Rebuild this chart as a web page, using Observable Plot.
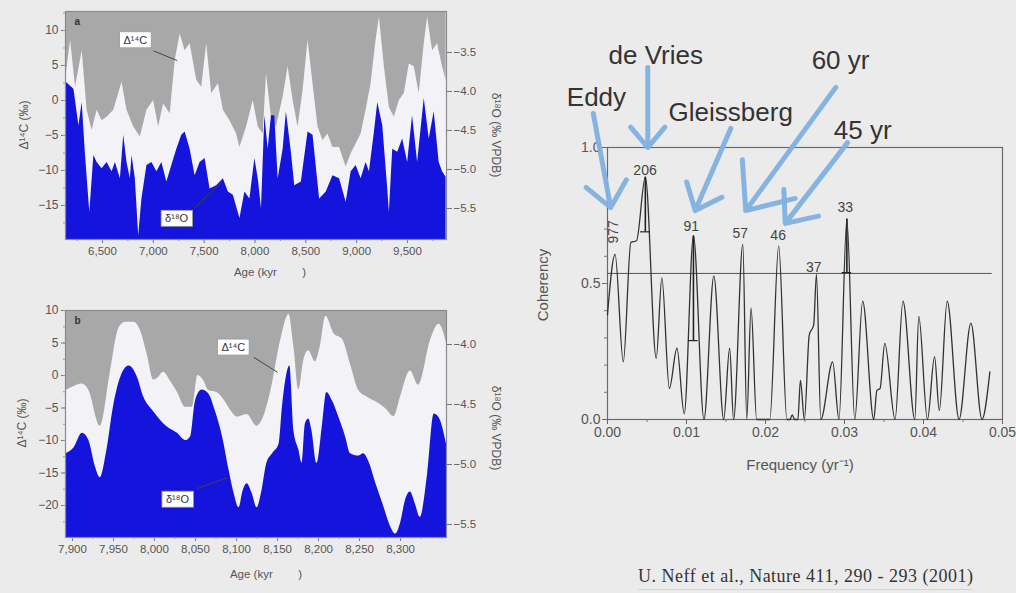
<!DOCTYPE html>
<html><head><meta charset="utf-8">
<script src="https://cdn.jsdelivr.net/npm/d3@7"></script>
<script src="https://cdn.jsdelivr.net/npm/@observablehq/plot@0.6"></script>
<style>
html,body{margin:0;padding:0;background:#ebebeb;}
#root{position:relative;width:1016px;height:593px;overflow:hidden;background:#ebebeb;font-family:"Liberation Sans",Arial,sans-serif;}
.pane{position:absolute;}
.lbl{position:absolute;white-space:pre;color:#555;font-size:12px;line-height:1;}
.rl{transform:translate(-50%,-50%) rotate(-90deg);}
.rr{transform:translate(-50%,-50%) rotate(90deg);}
.hc{transform:translate(-50%,-50%);}
.cap{position:absolute;left:638px;top:566px;font-family:"Liberation Serif","Times New Roman",serif;font-size:18px;letter-spacing:0.5px;color:#333;white-space:nowrap;border-bottom:1px solid #d6d6d6;padding-bottom:2px;}
</style></head><body><div id="root"></div>
<script>
// ---------- Panel a (Δ14C and δ18O vs age) ----------
const ageA14 = [6140,6186,6235,6300,6349,6398,6447,6496,6545,6611,
  6692,6741,6807,6872,6937,7003,7052,7101,7166,7215,
  7264,7313,7362,7427,7476,7525,7574,7640,7689,7754,
  7819,7852,7917,7983,8032,8081,8113,8162,8211,8277,
  8326,8375,8424,8473,8522,8571,8620,8669,8718,8767,
  8832,8897,8946,8995,9044,9093,9142,9191,9224,9273,
  9322,9371,9420,9469,9518,9567,9616,9665,9698,9747,
  9796,9845,9880];
const d14cA = [3.3,8.6,1.9,7.1,-1.4,-4.3,-1.4,-2.9,-2.4,-1.4,
  2.6,-1.4,-3.8,-5.2,-1.4,0,-3.8,-0.5,-1.9,5.7,
  9.5,7.1,8.1,2.9,1.9,8.1,1.0,2.4,-1.4,-2.9,
  -4.8,-6.7,-3.8,0,-3.8,-4.8,3.8,-2.4,-3.8,0.5,
  4.8,0,-3.8,1.4,8.6,2.4,-3.8,-5.7,-4.8,-6.7,
  -6.7,-9.5,-7.6,-6.2,-4.8,-1.4,2.4,8.6,11.9,4.8,
  -1.0,-2.4,0,1.0,5.2,4.8,1.0,8.1,11.9,7.1,
  8.1,4.8,2.9];
const ageA18 = [6140,6219,6268,6300,6333,6375,6415,6447,6496,6545,
  6594,6627,6676,6709,6741,6774,6790,6823,6856,6888,
  6937,6986,7035,7084,7133,7182,7231,7280,7313,7362,
  7411,7460,7509,7558,7623,7689,7738,7787,7852,7901,
  7950,7999,8032,8064,8097,8130,8162,8195,8228,8277,
  8309,8358,8391,8456,8522,8571,8636,8701,8767,8832,
  8897,8946,8995,9044,9093,9126,9175,9208,9257,9306,
  9322,9355,9404,9453,9502,9550,9600,9665,9714,9763,
  9812,9845,9880];
const d18oA = [-3.88,-3.97,-4.44,-4.14,-4.82,-5.55,-4.82,-4.91,-4.99,-4.91,
  -5.03,-4.91,-5.12,-4.56,-4.91,-5.12,-4.82,-5.12,-5.85,-5.38,
  -4.95,-4.91,-5.03,-4.91,-5.16,-4.95,-4.74,-4.56,-4.52,-4.74,
  -5.08,-4.91,-4.86,-5.25,-5.21,-5.12,-5.29,-5.33,-5.63,-5.29,
  -5.38,-4.86,-5.12,-5.50,-4.31,-4.74,-4.31,-4.31,-5.12,-4.74,
  -4.26,-4.78,-5.21,-5.16,-4.52,-4.56,-5.38,-5.29,-5.08,-5.12,
  -5.42,-5.03,-4.95,-5.12,-4.91,-5.03,-4.52,-4.14,-4.44,-5.25,
  -5.55,-4.74,-4.78,-4.61,-4.91,-4.31,-4.91,-4.09,-4.61,-4.26,
  -4.91,-5.03,-5.10];
const ageTicksA = [6500,7000,7500,8000,8500,9000,9500];
const d14cTicksA = [10,5,0,-5,-10,-15];
const d18oTicksA = [-3.5,-4.0,-4.5,-5.0,-5.5];
const annoTextA = ["Δ¹⁴C","δ¹⁸O"];
const annoAgeA = [6823,7229];
const annoValA = [8.6,-16.9];
const leadAgeA1 = [7000,7411], leadValA1 = [7.1,-15.3];
const leadAgeA2 = [7235,7676], leadValA2 = [5.7,-11.6];

// ---------- Panel b ----------
const ageB14 = [7892,7900,7912,7920,7934,7946,7957,7965,7975,7983,
  7991,7999,8005,8011,8020,8028,8038,8046,8053,8060,
  8066,8076,8085,8093,8101,8113,8125,8133,8142,8154,
  8164,8170,8176,8182,8188,8196,8202,8209,8219,8229,
  8239,8249,8259,8272,8282,8292,8300,8312,8322,8337,
  8347,8353,8356];
const d14cB = [-2.3,-1.8,-1.3,-2.3,-7.8,0.3,7.4,8.2,8.2,6.9,
  3.3,-0.7,-0.3,0.5,-1.0,-2.6,-4.9,-4.9,0,-0.8,
  -2.3,-2.6,-3.8,-5.4,-6.4,-6.0,-7.8,-6.4,-2.3,5.5,
  9.4,4.4,-2.2,2.3,3.8,2.1,4.4,9.1,6.4,5.6,
  1.7,-2.3,-3.3,-4.2,-5.1,-6.3,-3.3,0.7,-1.5,5.6,
  7.9,6.4,4.9];
const ageB18 = [7892,7902,7912,7920,7928,7934,7942,7950,7959,7969,
  7979,7987,7999,8016,8028,8038,8044,8050,8058,8066,
  8074,8083,8091,8097,8103,8108,8113,8119,8125,8131,
  8137,8144,8152,8156,8160,8165,8170,8176,8180,8184,
  8188,8192,8198,8205,8210,8217,8225,8233,8239,8249,
  8255,8261,8270,8280,8288,8294,8300,8306,8312,8318,
  8324,8333,8341,8347,8356];
const d18oB = [-4.91,-4.86,-4.74,-4.80,-5.02,-5.11,-4.88,-4.52,-4.27,-4.18,
  -4.27,-4.44,-4.56,-4.69,-4.74,-4.80,-4.77,-4.47,-4.38,-4.41,
  -4.55,-4.77,-5.05,-5.24,-5.36,-5.22,-5.16,-5.24,-5.36,-5.22,
  -4.99,-4.91,-4.83,-4.52,-4.30,-4.18,-4.72,-4.88,-4.99,-4.66,
  -4.62,-4.72,-4.99,-4.66,-4.40,-4.47,-4.61,-4.77,-4.91,-4.93,
  -4.91,-4.97,-5.16,-5.36,-5.52,-5.58,-5.49,-5.30,-5.23,-5.33,
  -5.44,-5.08,-4.58,-4.61,-4.83];
const ageTicksB = [7900,7950,8000,8050,8100,8150,8200,8250,8300];
const d14cTicksB = [10,5,0,-5,-10,-15,-20];
const d18oTicksB = [-4.0,-4.5,-5.0,-5.5];
const annoTextB = ["Δ¹⁴C","δ¹⁸O"];
const annoAgeB = [8096,8028];
const annoValB = [4.3,-19.1];
const leadAgeB1 = [8121,8052], leadValB1 = [2.8,-17.4];
const leadAgeB2 = [8150,8089], leadValB2 = [0.5,-15.7];

// ---------- Coherency spectrum ----------
const freq = [0,0.00096,0.0020,0.00296,0.00367,0.00479,0.00617,0.00688,0.00783,0.00879,
  0.00971,0.01088,0.01221,0.01346,0.01471,0.01546,0.01596,0.01713,0.01763,0.01817,
  0.01888,0.02054,0.02167,0.02271,0.0231,0.02338,0.0237,0.0241,0.02442,0.02492,
  0.02554,0.02610,0.02645,0.0270,0.0285,0.0293,0.0303,0.0313,0.0323,0.0337,
  0.0341,0.0345,0.0351,0.0364,0.0374,0.0389,0.0394,0.0405,0.0414,0.0420,
  0.0430,0.0445,0.0460,0.0474,0.0484];
const coherency = [0.385,0.607,0.212,0.651,0.657,0.891,0.225,0.521,0.114,0.262,
  0.021,0.675,0,0.527,0,0.262,0,0.644,0.002,0.41,
  0,0,0.638,0,0,0.017,0,0,0.144,0,
  0.311,0.348,0.533,0,0.212,0,0.737,0,0.435,0,
  0.107,0.114,0.280,0,0.435,0,0.379,0,0.231,0.033,
  0.435,0,0.354,0,0.175];
const significance = 0.537;
const barFreq = [0.00479,0.01088,0.0303];
const barHigh = [0.891,0.675,0.737];
const barLow = [0.69,0.29,0.54];
const peakLabels = ["977","206","91","57","46","37","33"];
const peakFreq = [0.0008,0.00475,0.0106,0.0168,0.0216,0.0261,0.0301];
const peakCoh = [0.69,0.915,0.71,0.685,0.675,0.56,0.78];
const cycleNames = ["Eddy","de Vries","Gleissberg","60 yr","45 yr"];
const nameFreq = [-0.0014,0.0061,0.0156,0.0295,0.0323];
const nameCoh = [1.184,1.338,1.129,1.32,1.0625];
const arrowFreq1 = [-0.0018,0.0051,0.0156,0.0289,0.0304];
const arrowCoh1 = [1.125,1.294,1.070,1.221,1.018];
const arrowFreq2 = [0.0004,0.0051,0.0111,0.0175,0.0225];
const arrowCoh2 = [0.779,1.0,0.768,0.768,0.721];
const freqTicks = [0,0.01,0.02,0.03,0.04,0.05];
const cohTicks = [0,0.5,1.0];
const caption = "U. Neff et al., Nature 411, 290 - 293 (2001)";

// ---------- build ----------
const root = document.getElementById("root");
const FONT = '"Liberation Sans", Arial, sans-serif';

function addLabel(text, x, y, cls, size) {
  const d = document.createElement("div");
  d.className = "lbl " + cls;
  d.style.left = x + "px"; d.style.top = y + "px";
  if (size) d.style.fontSize = size + "px";
  d.textContent = text;
  root.appendChild(d);
}

function boxLabels(svg, labels) {
  Array.from(svg.querySelectorAll("text"))
    .filter(t => labels.includes(t.textContent))
    .forEach(t => {
      const b = t.getBBox();
      const r = document.createElementNS("http://www.w3.org/2000/svg", "rect");
      r.setAttribute("x", b.x - 4); r.setAttribute("y", b.y - 2);
      r.setAttribute("width", b.width + 8); r.setAttribute("height", b.height + 4);
      r.setAttribute("fill", "#ffffff"); r.setAttribute("stroke", "#9a9a9a"); r.setAttribute("stroke-width", "0.8");
      if (t.getAttribute("transform")) r.setAttribute("transform", t.getAttribute("transform"));
      t.parentNode.insertBefore(r, t);
    });
}

function panel(o) {
  const grey = o.a14.map((x, i) => ({x, y: o.v14[i]}));
  const blue = o.a18.map((x, i) => ({x, y: o.toLeft(o.v18[i])}));
  const [y0, y1] = o.yDomain;
  const anno = o.annoText.map((t, i) => ({t, x: o.annoAge[i], y: o.annoVal[i],
    x1: o.lx1[i], y1: o.ly1[i], x2: o.lx2[i], y2: o.ly2[i]}));
  const fmtR = v => {
    const d = Math.round(o.toLeft.invert(v) * 2) / 2;
    return d.toFixed(1).replace("-", "\u2212");
  };
  const svg = Plot.plot({
    width: 520, height: o.height,
    marginLeft: 65, marginRight: 74, marginTop: o.mt, marginBottom: o.mb,
    x: {domain: o.xDomain}, y: {domain: o.yDomain},
    style: {background: "transparent", fontFamily: FONT, color: "#555", fontSize: "12px", overflow: "visible"},
    marks: [
      Plot.frame({fill: "#f3f3f7", stroke: null}),
      Plot.areaY(grey, {x: "x", y1: "y", y2: () => y1, fill: "#a8a8a8", curve: o.curve}),
      Plot.areaY(blue, {x: "x", y1: () => y0, y2: "y", fill: "#1414dc", curve: o.curve}),
      Plot.frame({stroke: "#8a8a8a", strokeWidth: 1.2}),
      Plot.axisX(o.xTicks, {tickFormat: d3.format(","), tickSize: 4, tickPadding: 3, fontSize: 11.5, label: null, stroke: "#777"}),
      Plot.axisX(o.xMinor, {tickFormat: () => "", tickSize: 2, label: null, stroke: "#999"}),
      Plot.axisY(o.yTicks, {tickSize: 4, tickPadding: 3, fontSize: 12, label: null, stroke: "#777"}),
      Plot.axisY(o.yMinor, {tickFormat: () => "", tickSize: 2, label: null, stroke: "#999"}),
      Plot.axisY(o.rTicks.map(o.toLeft), {anchor: "right", tickFormat: fmtR, tickSize: 5, tickPadding: 2, fontSize: 11.5, label: null, stroke: "#777"}),
      Plot.link(anno, {x1: "x1", y1: "y1", x2: "x2", y2: "y2", stroke: "#444", strokeWidth: 1}),
      Plot.text(anno, {x: "x", y: "y", text: "t", fontSize: 11, fill: "#333"}),
      Plot.text([o.letter], {frameAnchor: "top-left", dx: 9, dy: 6, fontSize: 10, fontWeight: "bold", fill: "#333"})
    ]
  });
  const wrap = document.createElement("div");
  wrap.className = "pane"; wrap.style.left = "0px"; wrap.style.top = o.top + "px";
  wrap.appendChild(svg); root.appendChild(wrap);
  boxLabels(svg, o.annoText);
}

panel({
  a14: ageA14, v14: d14cA, a18: ageA18, v18: d18oA,
  toLeft: d3.scaleLinear().domain([-3.5, -5.5]).range([6.857, -15.429]),
  xDomain: [6136, 9884], yDomain: [-19.86, 12.71],
  xTicks: ageTicksA, xMinor: d3.range(6250, 9884, 250),
  yTicks: d14cTicksA, yMinor: d3.range(-17.5, 12.6, 2.5),
  rTicks: d18oTicksA, curve: "linear",
  height: 290, mt: 11, mb: 51, top: 0, letter: "a",
  annoText: annoTextA, annoAge: annoAgeA, annoVal: annoValA,
  lx1: leadAgeA1, ly1: leadValA1, lx2: leadAgeA2, ly2: leadValA2
});
panel({
  a14: ageB14, v14: d14cB, a18: ageB18, v18: d18oB,
  toLeft: d3.scaleLinear().domain([-4.0, -5.5]).range([4.769, -22.923]),
  xDomain: [7891.5, 8356], yDomain: [-24.92, 10],
  xTicks: ageTicksB, xMinor: d3.range(7900, 8356, 25),
  yTicks: d14cTicksB, yMinor: d3.range(-22.5, 10.1, 2.5),
  rTicks: d18oTicksB, curve: "monotone-x",
  height: 298, mt: 15, mb: 56, top: 295, letter: "b",
  annoText: annoTextB, annoAge: annoAgeB, annoVal: annoValB,
  lx1: leadAgeB1, ly1: leadValB1, lx2: leadAgeB2, ly2: leadValB2
});

// right spectrum
const spec = freq.map((f, i) => ({f, c: coherency[i]}));
const bars = barFreq.map((f, i) => ({f, hi: barHigh[i], lo: barLow[i]}));
const peaks = peakLabels.map((t, i) => ({t, f: peakFreq[i], c: peakCoh[i]}));
const names = cycleNames.map((t, i) => ({t, f: nameFreq[i], c: nameCoh[i],
  f1: arrowFreq1[i], c1: arrowCoh1[i], f2: arrowFreq2[i], c2: arrowCoh2[i]}));
const svgR = Plot.plot({
  width: 496, height: 450, marginLeft: 87, marginRight: 14, marginTop: 117, marginBottom: 61,
  x: {domain: [0, 0.05]}, y: {domain: [0, 1]},
  style: {background: "transparent", fontFamily: FONT, color: "#555", overflow: "visible"},
  marks: [
    Plot.frame({stroke: "#6a6a6a", strokeWidth: 1.2}),
    Plot.ruleY([significance], {x1: 0, x2: 0.0487, stroke: "#555", strokeWidth: 1}),
    Plot.line(spec, {x: "f", y: "c", curve: "monotone-x", stroke: "#333", strokeWidth: 1.3}),
    Plot.ruleX(bars, {x: "f", y1: "lo", y2: "hi", stroke: "#222", strokeWidth: 1.6}),
    Plot.ruleY(bars, {y: "lo", x1: d => d.f - 0.0006, x2: d => d.f + 0.0006, stroke: "#222", strokeWidth: 1.2}),
    Plot.text(peaks.slice(1), {x: "f", y: "c", text: "t", fontSize: 14, fill: "#444"}),
    Plot.text(peaks.slice(0, 1), {x: "f", y: "c", text: "t", fontSize: 14, fill: "#444", rotate: -90}),
    Plot.axisX(freqTicks, {tickFormat: d3.format(".2f"), tickSize: 5, tickPadding: 3, fontSize: 14, label: null, stroke: "#666"}),
    Plot.axisX(d3.range(0.005, 0.05, 0.01), {tickFormat: () => "", tickSize: 3, label: null, stroke: "#777"}),
    Plot.axisY(cohTicks, {tickFormat: d3.format(".1f"), tickSize: 5, tickPadding: 2, fontSize: 14, label: null, stroke: "#666"}),
    Plot.axisY(d3.range(0.1, 1, 0.1), {tickFormat: () => "", tickSize: 3, label: null, stroke: "#777"}),
    Plot.arrow(names, {x1: "f1", y1: "c1", x2: "f2", y2: "c2", stroke: "#7fb0e2", strokeWidth: 5, headLength: 22, headAngle: 80, strokeOpacity: 0.95}),
    Plot.text(names, {x: "f", y: "c", text: "t", fontSize: 26, fill: "#333"})
  ]
});
const wrapR = document.createElement("div");
wrapR.className = "pane"; wrapR.style.left = "520px"; wrapR.style.top = "30px";
wrapR.appendChild(svgR); root.appendChild(wrapR);

// axis titles
addLabel("Δ¹⁴C (‰)", 24, 125, "rl", 12);
addLabel("δ¹⁸O (‰ VPDB)", 496, 135, "rr", 12);
addLabel("Age (kyr        )", 270, 273, "hc", 11.5);
addLabel("Δ¹⁴C (‰)", 22, 423, "rl", 12);
addLabel("δ¹⁸O (‰ VPDB)", 496, 428, "rr", 12);
addLabel("Age (kyr        )", 266, 575, "hc", 11.5);
addLabel("Coherency", 542, 285, "rl", 15);
addLabel("Frequency (yr⁻¹)", 800, 464, "hc", 15);
const cap = document.createElement("div");
cap.className = "cap"; cap.textContent = caption; root.appendChild(cap);
</script></body></html>
